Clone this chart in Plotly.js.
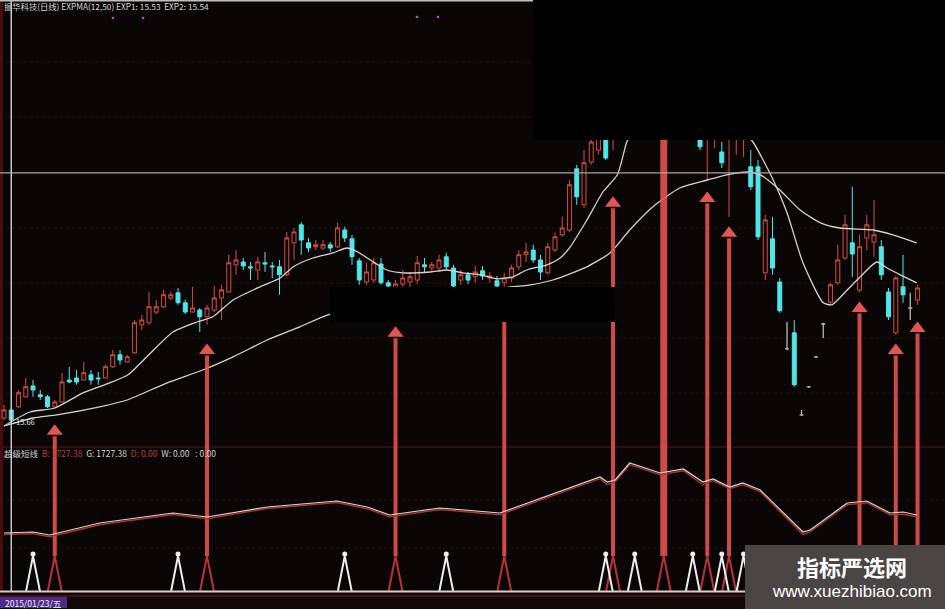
<!DOCTYPE html>
<html><head><meta charset="utf-8">
<script src="https://cdn.plot.ly/plotly-3.0.1.min.js"></script>
<style>html,body{margin:0;padding:0;background:#0b0606;}#chart{width:945px;height:609px;}</style>
</head><body><div id="chart"></div>
<script>
// ---- daily candles (price) ----
const opens=[15.71,15.91,15.99,16.24,16.51,16.29,16.24,15.99,16.11,16.66,
16.71,16.66,16.79,16.71,16.71,16.99,17.29,17.11,17.34,18.04,
18.09,18.36,18.49,18.71,18.84,18.59,18.36,18.41,18.24,18.41,
18.71,18.86,19.54,19.61,19.49,19.41,19.59,19.51,19.49,19.29,
20.09,20.54,20.09,19.99,19.96,20.04,19.99,20.41,20.19,19.64,
19.11,19.16,19.56,19.09,18.91,19.06,19.11,19.16,19.54,19.46,
19.46,19.74,19.46,19.16,19.29,19.24,19.39,19.21,19.14,19.09,
19.21,19.49,19.79,19.91,19.66,19.34,19.91,20.29,20.41,21.94,
21.04,22.11,22.41,22.91,22.79,23.29,23.91,24.54,24.29,24.79,
25.29,24.66,23.79,24.29,23.29,23.66,23.16,22.91,22.71,22.36,
22.71,22.91,22.79,21.99,21.99,19.34,20.19,19.11,17.44,17.84,
15.79,16.49,17.24,18.06,18.61,19.09,19.71,20.09,18.91,20.21,
20.11,19.99,18.86,17.84,18.99,18.46,18.66];
const highs=[16.04,15.96,16.41,16.71,16.66,16.41,16.29,16.16,16.84,16.99,
16.91,17.11,16.91,16.86,17.04,17.41,17.41,17.29,18.16,18.29,
18.86,18.66,18.91,18.86,18.96,18.66,18.99,18.46,18.54,19.01,
19.04,19.79,19.91,19.71,19.61,19.74,19.86,19.61,19.66,20.36,
20.46,20.61,20.21,20.16,20.16,20.11,20.59,20.49,20.29,19.71,
19.59,19.71,19.71,19.16,19.16,19.41,19.36,19.76,19.71,19.61,
19.79,19.84,19.54,19.41,19.36,19.51,19.51,19.36,19.26,19.34,
19.54,19.91,20.09,20.04,19.79,20.09,20.34,20.74,21.66,22.04,
22.41,22.91,23.04,23.16,23.91,24.29,24.91,24.79,25.29,25.61,
25.54,24.91,24.66,24.54,24.41,23.91,23.54,23.66,23.41,22.61,
23.41,23.54,23.46,22.41,22.16,20.79,20.74,19.21,18.11,18.16,
15.91,16.51,17.26,18.09,19.09,20.04,20.79,21.49,20.29,20.79,
21.16,20.16,18.96,19.26,19.79,18.84,19.04];
const lows=[15.66,15.61,15.96,16.21,16.24,16.16,15.96,15.94,16.09,16.59,
16.54,16.64,16.54,16.54,16.69,16.96,17.04,17.09,17.31,17.91,
18.04,18.31,18.46,18.66,18.54,18.31,18.34,17.86,18.04,18.36,
18.16,18.84,19.29,19.41,19.16,19.16,19.36,19.21,18.79,19.24,
19.66,19.79,19.86,19.91,19.91,19.86,19.96,20.11,19.54,19.04,
19.04,19.09,19.04,18.96,18.79,18.91,18.91,19.06,19.36,19.36,
19.36,19.41,18.96,19.04,19.06,19.09,19.16,19.09,18.91,18.99,
19.11,19.41,19.61,19.59,19.16,19.29,19.86,20.24,20.36,21.04,
20.96,22.04,22.29,22.16,22.41,23.21,23.79,23.66,24.16,24.66,
24.29,23.41,23.54,23.16,23.04,22.74,22.41,21.66,22.46,21.96,
20.74,22.29,22.24,21.41,20.16,19.16,19.29,18.34,17.41,16.49,
15.76,16.46,17.21,17.71,18.54,19.04,19.66,19.24,18.84,19.91,
19.74,19.16,18.16,17.79,18.59,18.16,18.54];
const closes=[15.91,15.66,16.34,16.49,16.41,16.24,15.99,16.11,16.61,16.61,
16.61,16.84,16.66,16.69,16.99,17.29,17.16,17.24,18.09,18.16,
18.49,18.49,18.79,18.79,18.59,18.36,18.46,18.24,18.46,18.71,
18.91,19.59,19.66,19.51,19.46,19.61,19.56,19.49,19.29,20.21,
20.36,20.16,19.96,20.04,20.04,19.96,20.46,20.21,19.74,19.16,
19.36,19.59,19.09,19.01,19.06,19.21,19.24,19.59,19.49,19.54,
19.66,19.49,19.01,19.29,19.16,19.36,19.26,19.26,19.01,19.21,
19.46,19.79,19.86,19.66,19.36,19.99,20.24,20.46,21.54,21.24,
22.09,22.61,22.79,22.21,23.66,24.04,24.66,23.79,25.04,25.41,
24.41,23.66,24.41,23.41,24.04,22.91,22.49,23.41,23.16,22.09,
23.16,23.29,23.21,21.49,20.24,20.66,19.46,18.39,17.44,16.54,
15.79,16.49,17.24,18.06,19.04,19.66,20.54,19.81,19.99,20.54,
20.29,19.29,18.24,19.21,18.79,18.46,18.96];

// ---- EXPMA lines ----
const ema1X=[0,3.6,7,10.9,14.6,17.1,19.7,23.3,26.6,28.8,31.6,35.3,38.1,39.9,42.6,45.4,47.3,48.8,50.1,52.8,55,58.8,61.1,63.3,65.7,68,70.2,72.1,74.9,76.7,78.1,80.4,82.6,84.6,85.9,87.7,90.5,93.2,96,98.8,101.5,103.3,106.1,108,110.2,113,114.2,116.3,118.1,120.4,121.8,123.6,125.9];
const ema1Y=[15.51,15.86,15.96,16.34,16.59,16.79,17.24,17.86,18.11,18.24,18.66,18.99,19.21,19.49,19.71,19.84,19.96,19.86,19.71,19.41,19.34,19.36,19.41,19.34,19.29,19.19,19.24,19.41,19.54,19.71,19.99,20.66,21.36,21.79,22.61,23.29,23.74,23.86,23.71,23.36,22.96,22.61,21.66,20.84,19.59,18.59,18.54,18.91,19.24,19.61,19.46,19.29,19.09];
const ema2X=[0,4,7.3,13.2,17,22.5,27.4,31.6,36.3,40.8,44.7,51.9,58.8,65.7,72.6,75.7,80.4,83.6,86.3,89.5,93.2,97,99.7,102.5,104.3,107,109.8,112.6,115.3,119.9,122.6,125.9];
const ema2Y=[15.51,15.71,15.79,15.99,16.16,16.59,16.91,17.24,17.66,17.99,18.29,18.54,18.74,18.91,19.04,19.16,19.49,19.84,20.41,20.99,21.46,21.66,21.79,21.86,21.79,21.41,20.91,20.59,20.46,20.41,20.29,20.09];

// ---- buy signals ----
const buyIdx=[7,28,54,69,84,91,97,100,118,123,126];
const buyTip=[15.59,17.61,18.04,18.66,21.29,24.66,21.41,20.54,18.66,17.61,18.16];
const wideIdx=[91];
const whiteSig=[4,24,47,61,83,87,95,99,102];
const redSig=[7,28,54,69,84,91,97,100,118,123,126];

// ---- lower indicator (超级短线) ----
const lowX=[0,4,6.3,13.2,23.3,28,36.3,45.9,50.1,53.2,60.1,68.4,82.2,83.2,84.3,86.3,90.5,93.7,96.4,97.8,100.1,101.9,104.3,110.2,111.2,116.3,119,122.2,124,125.9];
const lowG=[1717,1727,1697,1817,1917,1877,1977,2037,1977,1897,1967,1917,2277,2227,2247,2417,2317,2357,2227,2257,2177,2217,2147,1727,1747,2017,2037,1917,1927,1897];
const lowB=[1702,1712,1680,1800,1902,1860,1962,2022,1960,1880,1952,1900,2260,2200,2230,2400,2300,2340,2200,2240,2160,2200,2130,1700,1730,2000,2020,1900,1905,1880];

const crossIdx=1, crossPrice=21.84;

// ---------------- build ----------------
const N=opens.length, idx=[...Array(N).keys()];
const flat=idx.filter(i=>opens[i]===closes[i]);
const body=idx.filter(i=>opens[i]!==closes[i]);
const pick=(a,ids)=>ids.map(i=>a[i]);
const RED='#c4483a', CYAN='#4fe6ea';

const traces=[];
traces.push({type:'candlestick',x:body,open:pick(opens,body),high:pick(highs,body),low:pick(lows,body),close:pick(closes,body),
  increasing:{line:{color:RED,width:1.1},fillcolor:'rgba(0,0,0,0)'},
  decreasing:{line:{color:CYAN,width:1},fillcolor:CYAN},whiskerwidth:0,hoverinfo:'skip',showlegend:false});
traces.push({type:'candlestick',x:flat,open:pick(opens,flat),high:pick(highs,flat),low:pick(lows,flat),close:pick(closes,flat),
  increasing:{line:{color:'#b8b8b8',width:1.3},fillcolor:'#b8b8b8'},
  decreasing:{line:{color:'#b8b8b8',width:1.3},fillcolor:'#b8b8b8'},whiskerwidth:0,hoverinfo:'skip',showlegend:false});
traces.push({type:'scatter',mode:'lines',x:ema1X,y:ema1Y,line:{color:'#d8d2cc',width:1.3,shape:'spline',smoothing:0.6},hoverinfo:'skip',showlegend:false});
traces.push({type:'scatter',mode:'lines',x:ema2X,y:ema2Y,line:{color:'#d8d2cc',width:1.3,shape:'spline',smoothing:0.6},hoverinfo:'skip',showlegend:false});

// lower panel lines (y2)
traces.push({type:'scatter',mode:'lines',x:lowX,y:lowB,yaxis:'y2',line:{color:'#a8362f',width:1.4},hoverinfo:'skip',showlegend:false});
traces.push({type:'scatter',mode:'lines',x:lowX,y:lowG,yaxis:'y2',line:{color:'#e6d6ce',width:1.2},hoverinfo:'skip',showlegend:false});

// Λ glyphs
const LBASE=1137, LAPEX=1487;
function lam(sig){const x=[],y=[];sig.forEach(s=>{x.push(s-0.95,s,s+0.95,null);y.push(LBASE,LAPEX,LBASE,null);});return {x,y};}
const lr=lam(redSig), lw=lam(whiteSig);
traces.push({type:'scatter',mode:'lines',x:lr.x,y:lr.y,yaxis:'y2',line:{color:'rgba(215,60,60,0.85)',width:2},hoverinfo:'skip',showlegend:false});
traces.push({type:'scatter',mode:'lines',x:lw.x,y:lw.y,yaxis:'y2',line:{color:'#ececec',width:2},hoverinfo:'skip',showlegend:false});
traces.push({type:'scatter',mode:'markers',x:whiteSig,y:whiteSig.map(()=>LAPEX+20),yaxis:'y2',marker:{color:'#f0f0f0',size:5,symbol:'circle'},hoverinfo:'skip',showlegend:false});

// arrows
const SHAFT_BOTTOM=12.26, HEAD=0.42;
function shafts(ids){const x=[],y=[];ids.forEach(k=>{x.push(buyIdx[k],buyIdx[k],null);y.push(SHAFT_BOTTOM,buyTip[k]-HEAD*0.8,null);});return {x,y};}
const allK=buyIdx.map((_,k)=>k);
const normK=allK.filter(k=>!wideIdx.includes(buyIdx[k]));
const wideK=allK.filter(k=>wideIdx.includes(buyIdx[k]));
const sn=shafts(normK), sw=shafts(wideK);
traces.push({type:'scatter',mode:'lines',x:sn.x,y:sn.y,line:{color:'rgba(232,84,80,0.88)',width:4},hoverinfo:'skip',showlegend:false});
traces.push({type:'scatter',mode:'lines',x:sw.x,y:sw.y,line:{color:'rgba(232,84,80,0.88)',width:7},hoverinfo:'skip',showlegend:false});
traces.push({type:'scatter',mode:'markers',x:pick(buyIdx,normK),y:pick(buyTip,normK).map(v=>v-HEAD*0.5),
  marker:{symbol:'triangle-up',size:14,color:'rgba(236,92,86,0.95)',line:{width:0}},hoverinfo:'skip',showlegend:false});

// ---------------- layout ----------------
const W=945,H=609;
const px=v=>v/W, py=v=>1-v/H;
const shapes=[];
// grid
[62,117,228,283,338,393,500,548].forEach(y=>shapes.push({type:'line',xref:'paper',yref:'paper',x0:0,x1:1,y0:py(y),y1:py(y),line:{color:'rgba(110,22,22,0.3)',width:1,dash:'dot'},layer:'below'}));
shapes.push({type:'line',xref:'paper',yref:'paper',x0:0,x1:1,y0:py(447),y1:py(447),line:{color:'#5a1414',width:1.2},layer:'below'});
// left strip & top line
shapes.push({type:'rect',xref:'paper',yref:'paper',x0:0,x1:px(3),y0:0,y1:1,fillcolor:'#4a0d0d',line:{width:0},layer:'below'});
shapes.push({type:'line',xref:'paper',yref:'paper',x0:0,x1:px(533),y0:py(0.8),y1:py(0.8),line:{color:'#bfbfbf',width:1.6}});
// crosshair
shapes.push({type:'line',xref:'paper',yref:'y',x0:0,x1:1,y0:crossPrice,y1:crossPrice,line:{color:'#a9a4a0',width:1.2}});
shapes.push({type:'line',xref:'x',yref:'paper',x0:crossIdx,x1:crossIdx,y0:py(592),y1:py(1),line:{color:'#d0d0d0',width:1.4}});
// bottom base line & strip
shapes.push({type:'rect',xref:'paper',yref:'paper',x0:0,x1:1,y0:0,y1:py(592),fillcolor:'#120707',line:{width:0}});
shapes.push({type:'line',xref:'paper',yref:'paper',x0:0,x1:1,y0:py(591.5),y1:py(591.5),line:{color:'#d4d0cc',width:1.8}});
shapes.push({type:'line',xref:'paper',yref:'paper',x0:0,x1:1,y0:py(596),y1:py(596),line:{color:'#5a1616',width:1.5}});
shapes.push({type:'rect',xref:'paper',yref:'paper',x0:0,x1:px(67),y0:py(608),y1:py(597),fillcolor:'#4e2a8a',line:{width:0}});
// redaction boxes
shapes.push({type:'rect',xref:'paper',yref:'paper',x0:px(533),x1:1,y0:py(140),y1:1,fillcolor:'#000000',line:{width:0},layer:'above'});
shapes.push({type:'rect',xref:'paper',yref:'paper',x0:px(330),x1:px(615),y0:py(322),y1:py(287),fillcolor:'#000000',line:{width:0},layer:'above'});
// watermark box
shapes.push({type:'rect',xref:'paper',yref:'paper',x0:px(745),x1:1,y0:0,y1:py(545),fillcolor:'#4a4444',line:{width:0},layer:'above'});

const F='"Noto Sans CJK SC", "Liberation Sans", sans-serif';
const ann=[];
ann.push({xref:'paper',yref:'paper',x:px(2),y:py(6),xanchor:'left',yanchor:'middle',showarrow:false,
  text:'振华科技(日线) EXPMA(12,50) EXP1: 15.53  EXP2: 15.54',font:{family:F,size:8.3,color:'#d6d6d6'}});
ann.push({xref:'paper',yref:'paper',x:px(2),y:py(453),xanchor:'left',yanchor:'middle',showarrow:false,
  text:'<span style="color:#d0d0d0">超级短线</span>  <span style="color:#b83a34">B: 1727.38</span>  <span style="color:#d0d0d0">G: 1727.38</span>  <span style="color:#b83a34">D: 0.00</span>  <span style="color:#d0d0d0">W: 0.00   : 0.00</span>',
  font:{family:F,size:8.5,color:'#d0d0d0'}});
ann.push({xref:'paper',yref:'paper',x:px(14),y:py(421),xanchor:'left',yanchor:'middle',showarrow:false,
  text:'15.66',font:{family:F,size:7.5,color:'#e0e0e0'}});
ann.push({xref:'paper',yref:'paper',x:px(33),y:py(602.5),xanchor:'center',yanchor:'middle',showarrow:false,
  text:'2015/01/23/五',font:{family:F,size:8.5,color:'#f0f0f0'}});
ann.push({xref:'paper',yref:'paper',x:px(852),y:py(566),xanchor:'center',yanchor:'middle',showarrow:false,
  text:'<b>指标严选网</b>',font:{family:F,size:22,color:'#ffffff'}});
ann.push({xref:'paper',yref:'paper',x:px(852),y:py(591),xanchor:'center',yanchor:'middle',showarrow:false,
  text:'www.xuezhibiao.com',font:{family:'"Liberation Sans", Arial, sans-serif',size:17,color:'#ffffff'}});
// magenta markers at top
[[113,18],[143,18],[417,17],[438,17]].forEach(p=>shapes.push({type:'circle',xref:'paper',yref:'paper',x0:px(p[0]-1.3),x1:px(p[0]+1.3),y0:py(p[1]+1.3),y1:py(p[1]-1.3),fillcolor:'#b050c0',line:{width:0}}));

const layout={width:W,height:H,margin:{l:0,r:0,t:0,b:0},paper_bgcolor:'#0b0606',plot_bgcolor:'#0b0606',
  showlegend:false,boxgap:0.22,
  xaxis:{range:[-0.552,129.79],visible:false,fixedrange:true,rangeslider:{visible:false}},
  yaxis:{range:[10.935,26.16],visible:false,fixedrange:true},
  yaxis2:{range:[957,7047],overlaying:'y',visible:false,fixedrange:true},
  shapes:shapes,annotations:ann};
Plotly.newPlot('chart',traces,layout,{displayModeBar:false,staticPlot:true});
</script></body></html>
